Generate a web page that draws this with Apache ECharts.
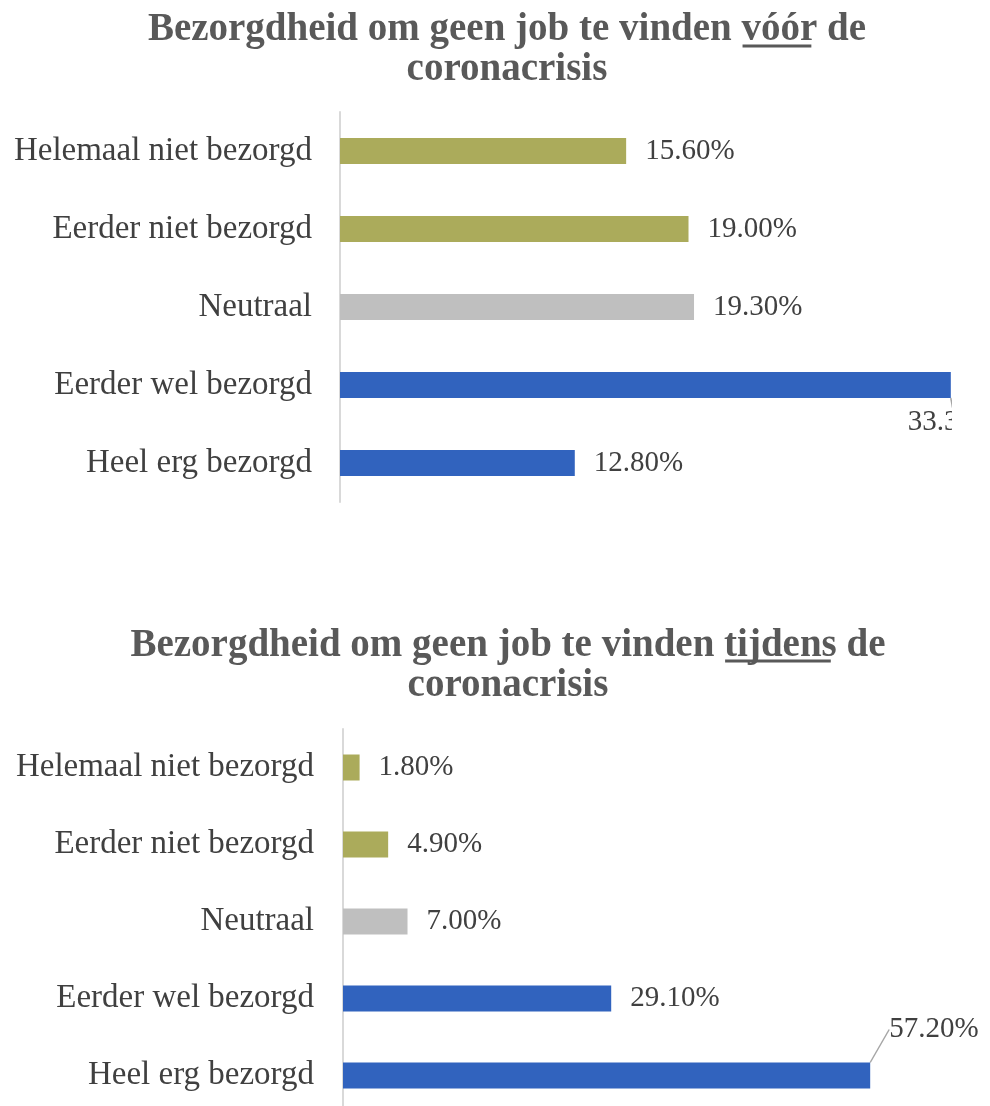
<!DOCTYPE html>
<html style="height: 100%">
<head>
    <meta charset="utf-8">
    <title>Bezorgdheid om geen job te vinden</title>
</head>
<body style="height: 100%; margin: 0; background: #fff; overflow: hidden">
<div id="container" style="width: 990px; height: 1120px"></div>
<script src="https://cdn.jsdelivr.net/npm/echarts@6/dist/echarts.min.js"></script>
<script>
var categories = ['Helemaal niet bezorgd', 'Eerder niet bezorgd', 'Neutraal', 'Eerder wel bezorgd', 'Heel erg bezorgd'];
var voorValues = [15.6, 19.0, 19.3, 33.3, 12.8];
var tijdensValues = [1.8, 4.9, 7.0, 29.1, 57.2];
var titleStart = 'Bezorgdheid om geen job te vinden ';
var titleWords = ['vóór', 'tijdens'];
var titleEnd = ' de';
var titleLine2 = 'coronacrisis';

var barColors = ['#abab5b', '#abab5b', '#bfbfbf', '#3163be', '#3163be'];
var serif = '"Liberation Serif", "Times New Roman", serif';
var titleFont = 'bold 39px ' + serif;
var titleX = [502, 503];
var titleTop = [5, 621];

var dom = document.getElementById('container');
var myChart = echarts.init(dom);

// label of one bar per chart is moved away from the bar, with a leader line
function items(vals, movedIndex) {
    return vals.map(function (v, i) {
        var d = { value: v, itemStyle: { color: barColors[i] } };
        if (i === movedIndex) d.labelLine = { show: true };
        return d;
    });
}

// underline under the emphasised word of the first title line
var ctx = document.createElement('canvas').getContext('2d');
ctx.font = titleFont;
function underline(k, y) {
    var full = ctx.measureText(titleStart + titleWords[k] + titleEnd).width;
    var x1 = titleX[k] - full / 2 + ctx.measureText(titleStart).width;
    var x2 = x1 + ctx.measureText(titleWords[k]).width;
    // keep to the ink of the word, not its advance box
    return { type: 'line', shape: { x1: x1 + 6, y1: y, x2: x2 - 1, y2: y }, style: { stroke: '#595959', lineWidth: 3 } };
}

var valueLabel = {
    show: true,
    position: 'right',
    distance: 19,
    offset: [0, 3],
    fontFamily: serif,
    fontSize: 29,
    color: '#404040',
    formatter: function (p) { return p.value.toFixed(2) + '%'; }
};

var titleStyle = {
    fontFamily: serif,
    fontWeight: 'bold',
    fontSize: 39,
    lineHeight: 40,
    color: '#595959'
};

var option = {
    animation: false,
    backgroundColor: '#fff',
    title: [0, 1].map(function (k) {
        return {
            text: titleStart + titleWords[k] + titleEnd + '\n' + titleLine2,
            left: titleX[k], top: titleTop[k], textAlign: 'center', textStyle: titleStyle
        };
    }),
    grid: [
        { left: 340, top: 112, width: 642, height: 390 },
        { left: 343, top: 729, width: 553, height: 385 }
    ],
    xAxis: [
        { gridIndex: 0, type: 'value', min: 0, max: 35, show: false },
        { gridIndex: 1, type: 'value', min: 0, max: 60, show: false }
    ],
    yAxis: [0, 1].map(function (g) {
        return {
            gridIndex: g,
            type: 'category',
            inverse: true,
            data: categories,
            axisTick: { show: false },
            axisLine: { lineStyle: { color: '#d9d9d9', width: 2 } },
            axisLabel: {
                fontFamily: serif,
                fontSize: 33,
                color: '#404040',
                padding: [7, 0, 0, 0],
                margin: g === 0 ? 28 : 29
            }
        };
    }),
    series: [
        {
            type: 'bar',
            xAxisIndex: 0,
            yAxisIndex: 0,
            barWidth: 26,
            data: items(voorValues, 3),
            label: valueLabel,
            labelLine: { show: false, lineStyle: { color: '#a6a6a6', width: 1.5 } },
            labelLayout: function (p) {
                if (p.dataIndex === 3) return { dx: -62, dy: 37 };
                return {};
            }
        },
        {
            type: 'bar',
            xAxisIndex: 1,
            yAxisIndex: 1,
            barWidth: 26,
            data: items(tijdensValues, 4),
            label: valueLabel,
            labelLine: { show: false, lineStyle: { color: '#a6a6a6', width: 1.5 } },
            labelLayout: function (p) {
                if (p.dataIndex === 4) return { dx: 0, dy: -46 };
                return {};
            }
        }
    ],
    graphic: [
        underline(0, 46),
        underline(1, 661),
        // the upper chart is cut off at its right edge
        { type: 'rect', z: 100, shape: { x: 952, y: 100, width: 40, height: 420 }, style: { fill: '#fff' } }
    ]
};

myChart.setOption(option);
window.onresize = function () { myChart.resize(); };
</script>
</body>
</html>
